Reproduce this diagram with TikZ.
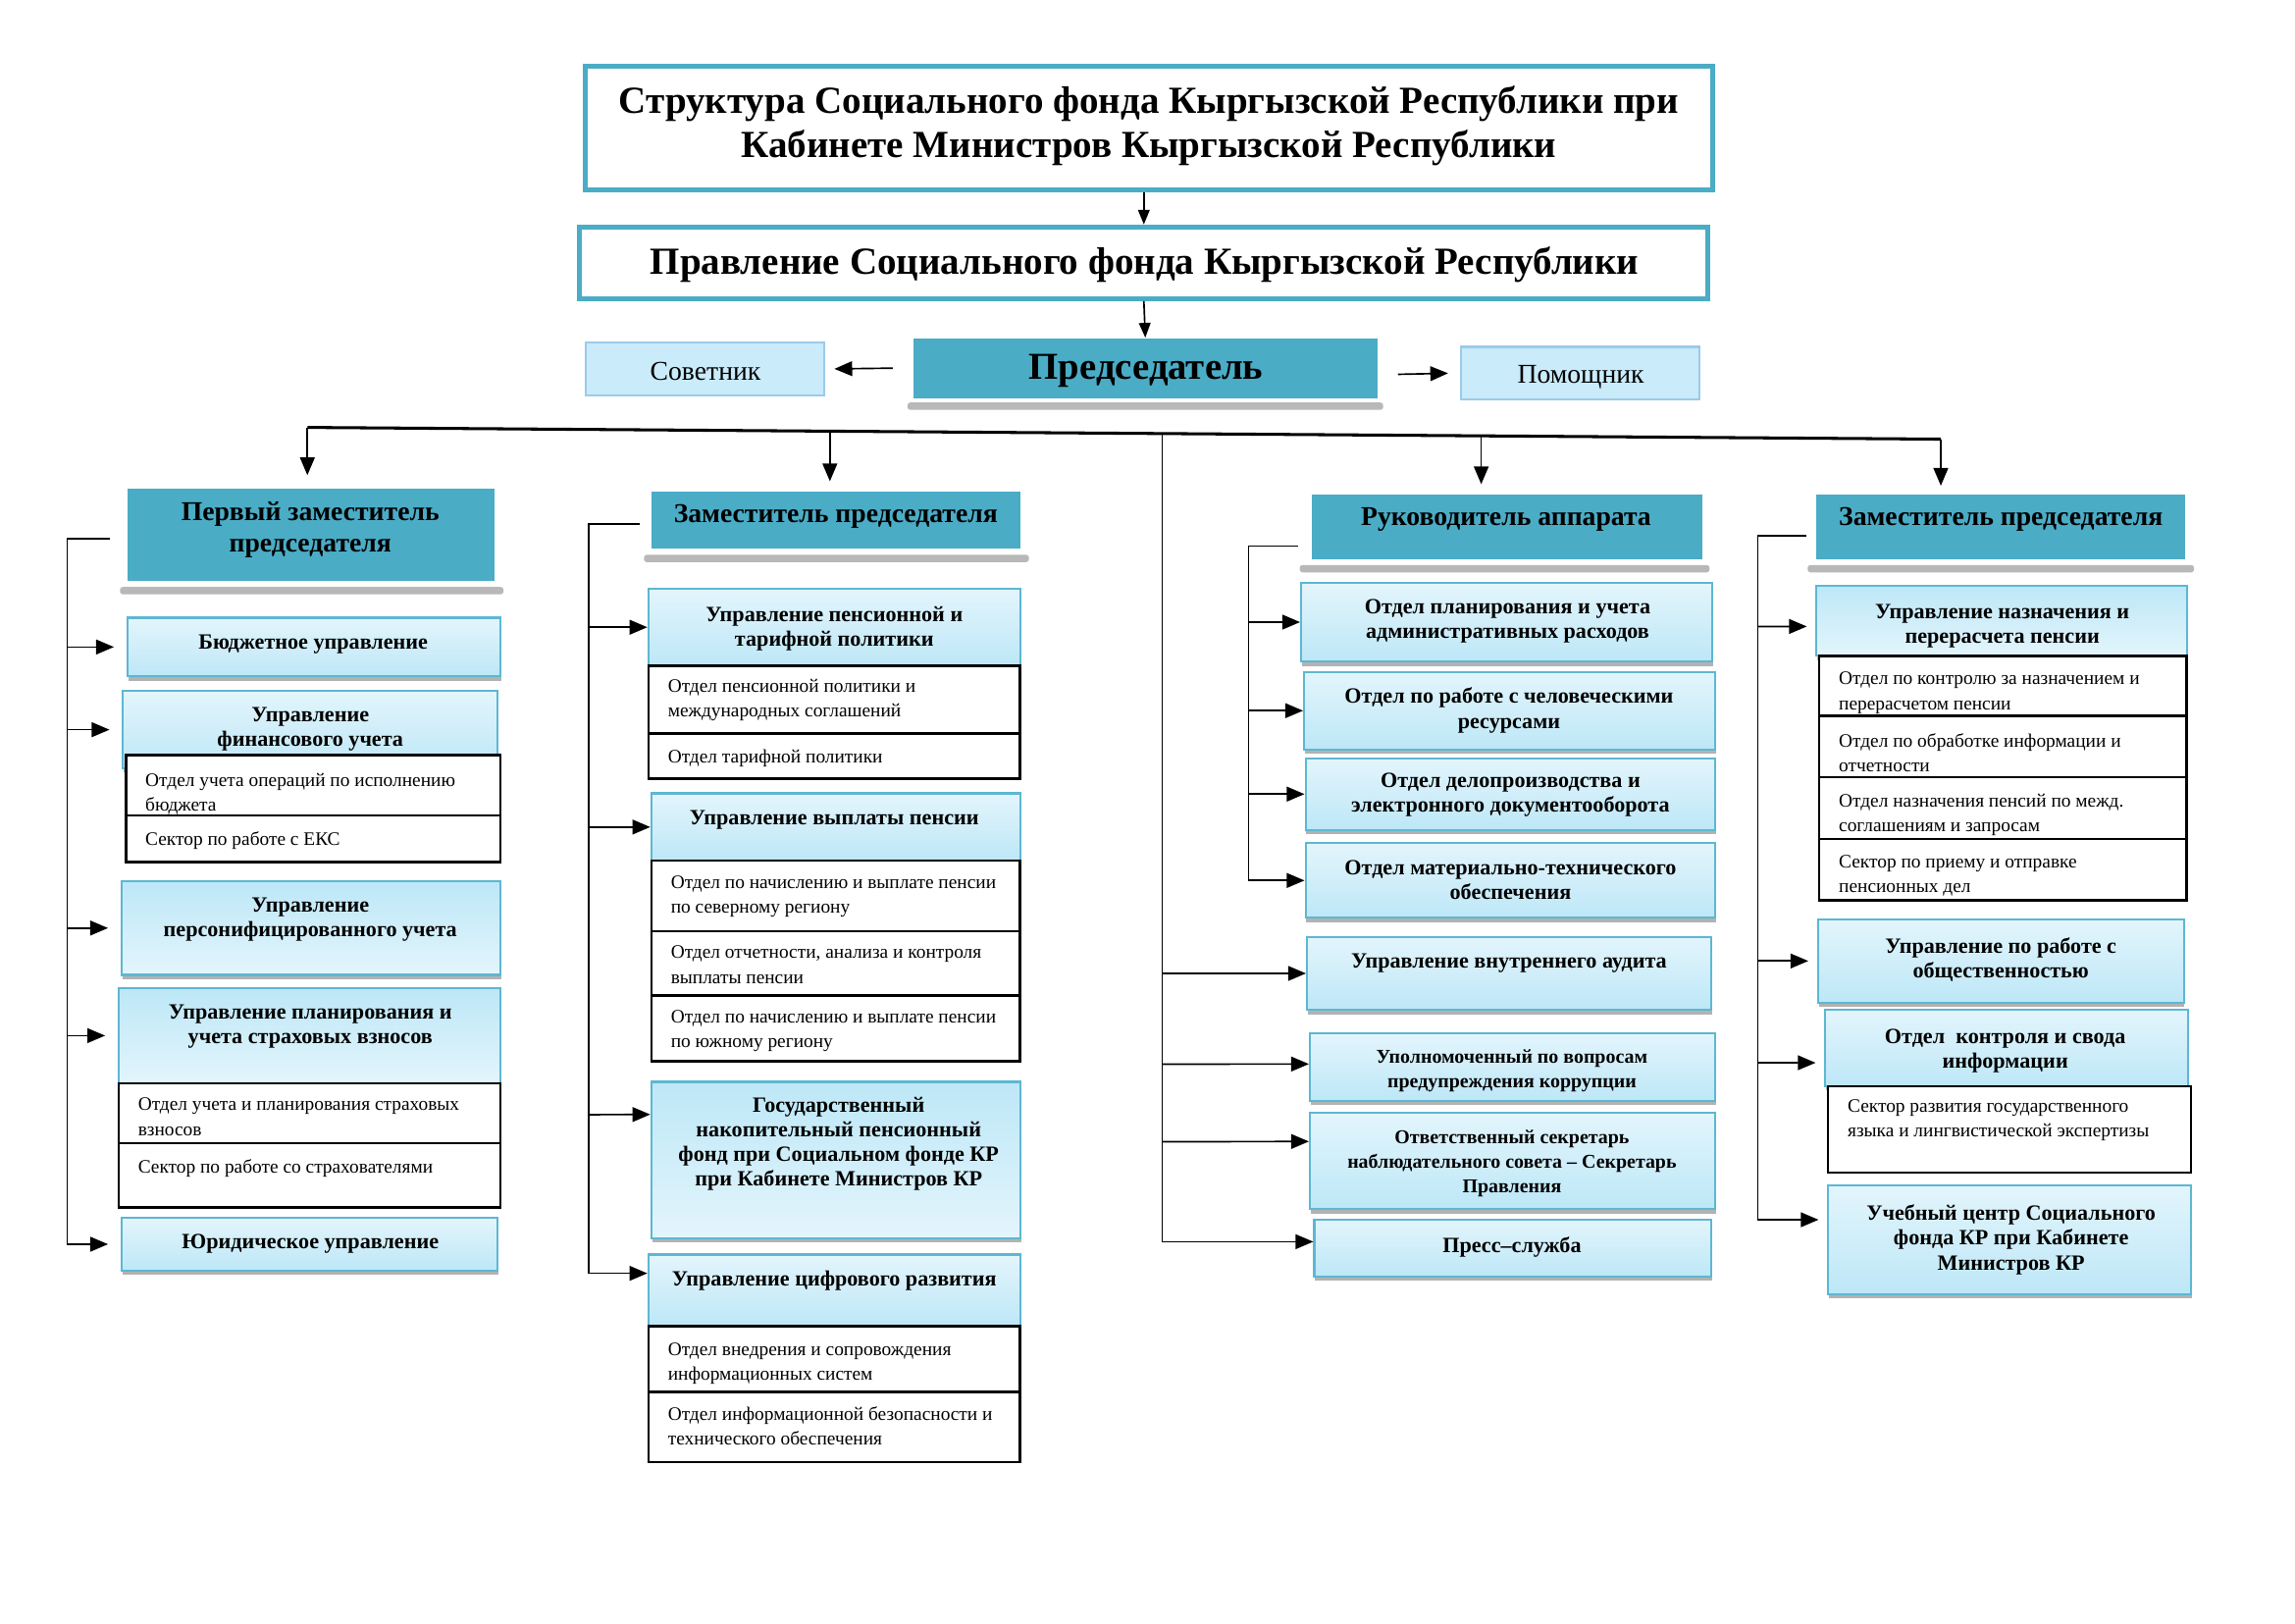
\documentclass[tikz,border=0pt]{standalone}
\usepackage{fontspec}
\setmainfont{Liberation Serif}
\usetikzlibrary{arrows.meta,fit,shadows}
\definecolor{hdrc}{HTML}{4BACC6}
\definecolor{titc}{HTML}{4BACC6}
\definecolor{bordc}{HTML}{5DB7D2}
\definecolor{gtop}{HTML}{E3F5FC}
\definecolor{gbot}{HTML}{BDE7F7}
\definecolor{sidef}{HTML}{C9EBFA}
\definecolor{sided}{HTML}{9BCBE9}
\newcommand\ftl{\fontsize{14.1}{16.2}\selectfont\bfseries}
\newcommand\fpr{\fontsize{14}{17}\selectfont\bfseries}
\newcommand\fhd{\fontsize{10}{11.8}\selectfont\bfseries}
\newcommand\fbx{\fontsize{8}{9.1}\selectfont\bfseries}
\newcommand\fbs{\fontsize{7.2}{9.1}\selectfont\bfseries}
\newcommand\fsb{\fontsize{7}{9.1}\selectfont}
\newcommand\fsd{\fontsize{10}{12}\selectfont}
\tikzset{
  titlebox/.style={draw=titc, line width=1.8pt, fill=white, inner sep=0},
  hdrbox/.style={fill=hdrc, inner sep=0},
  hshadow/.style={fill=black!28, rounded corners=1pt},
  lbox/.style={draw=bordc, line width=0.8pt, top color=gtop, bottom color=gbot, inner sep=0,
    drop shadow={shadow xshift=0.1mm, shadow yshift=-0.55mm, fill=black!30, opacity=1}},
  lboxr/.style={lbox, top color=gbot, bottom color=gtop},
  tbl/.style={draw=black, line width=0.9pt, fill=white, inner sep=0},
  side/.style={draw=sided, line width=0.8pt, fill=sidef, inner sep=0},
  conn/.style={line width=0.6pt},
  arr/.style={conn, -{Triangle[length=2.3mm,width=1.9mm]}},
  arrs/.style={conn, -{Triangle[length=1.9mm,width=1.5mm]}},
  ttxt/.style={font=\ftl, align=center, inner sep=0, yshift=-0.35mm},
  htxt/.style={font=\fhd, align=center, inner sep=0, yshift=-0.35mm},
  btxt/.style={font=\fbx, align=center, inner sep=0, yshift=-0.35mm},
  bstxt/.style={font=\fbs, align=center, inner sep=0, yshift=-0.35mm},
  stxt/.style={font=\fsb, align=left, inner sep=0, anchor=north west, yshift=-0.35mm},
}
\begin{document}
\begin{tikzpicture}[x=0.18941mm, y=-0.18941mm]
\useasboundingbox (0,0) rectangle (1568,1109);
\fill[white] (0,0) rectangle (1568,1109);

% ---------- top ----------
\node[titlebox, fit={(400,45) (1170,130)}] (title) {};
\node[ttxt] (titlet) at (785,84) {Структура Социального фонда Кыргызской Республики при\\Кабинете Министров Кыргызской Республики};
\node[titlebox, fit={(396,155) (1167,204)}] (prav) {};
\node[ttxt] (pravt) at (782,179) {Правление Социального фонда Кыргызской Республики};
\fill[hshadow] (620,275) rectangle (945,280);
\node[hdrbox, fit={(624,231) (941,272)}] (pred) {};
\node[font=\fpr, inner sep=0, yshift=-0.5mm] (predt) at (783,251) {Председатель};
\node[side, fit={(400,234) (563,270)}] (sov) {};
\node[font=\fsd, inner sep=0, yshift=-0.35mm] (sovt) at (482,252) {Советник};
\node[side, fit={(998,237) (1161,273)}] (pom) {};
\node[font=\fsd, inner sep=0, yshift=-0.35mm] (pomt) at (1080,256) {Помощник};

\draw[arrs] (title.south -| prav.north) -- (prav.north);
\draw[arrs] (prav.south) -- (pred.north);
\draw[arr] ([xshift=-2.6mm]pred.west) -- ([xshift=1.2mm]sov.east);
\draw[arr] ([xshift=2.6mm,yshift=-0.8mm]pred.east) -- ([xshift=-1.5mm]pom.west);

% ---------- main line ----------
\coordinate (L1) at (210,292);
\coordinate (L2) at (567,294.6);
\coordinate (LM) at (794,296.2);
\coordinate (L3) at (1012,297.7);
\coordinate (L4) at (1326,300);
\draw[line width=1.1pt] (L1) -- (L4);

% ---------- column 1 ----------
\fill[hshadow] (82,401) rectangle (344,406);
\node[hdrbox, fit={(87,334) (338,397)}] (h1) {};
\node[htxt] (h1t) at (212,360) {Первый заместитель\\председателя};

\node[lbox, fit={(87,422) (342,462)}] (c1a) {};
\node[btxt] (c1at) at (214,438) {Бюджетное управление};

\node[lbox, fit={(84,472) (340,525)}] (c1b) {};
\node[btxt] (c1bt) at (212,496.5) {Управление\\финансового учета};
\node[tbl, fit={(86,516) (342,557)}] (c1b1) {};
\node[tbl, fit={(86,557) (342,589)}] (c1b2) {};
\node[stxt] (c1b1t) at (99,526) {Отдел учета операций по исполнению\\бюджета};
\node[stxt] (c1b2t) at (99,566) {Сектор по работе с ЕКС};

\node[lboxr, fit={(83,602) (342,666)}] (c1c) {};
\node[btxt] (c1ct) at (212,626.5) {Управление\\персонифицированного учета};

\node[lboxr, fit={(81,675) (342,740)}] (c1d) {};
\node[btxt] (c1dt) at (212,699.5) {Управление планирования и\\учета страховых взносов};
\node[tbl, fit={(81,740) (342,781)}] (c1d1) {};
\node[tbl, fit={(81,781) (342,825)}] (c1d2) {};
\node[stxt] (c1d1t) at (94,748) {Отдел учета и планирования страховых\\взносов};
\node[stxt] (c1d2t) at (94,790) {Сектор по работе со страхователями};

\node[lbox, fit={(83,832) (340,868)}] (c1e) {};
\node[btxt] (c1et) at (212,848) {Юридическое управление};

\draw[arr, shorten >=1.7mm] (L1) -- (L1 |- h1.north);
\coordinate (s1) at (75,368);
\coordinate (B1) at (46,368);
\draw[arr, shorten >=1.6mm] (s1) -- (B1) |- (c1e.west);
\foreach \n in {c1a,c1b,c1c,c1d}{
  \draw[arr, shorten >=1.6mm] (B1 |- \n.west) -- (\n.west);
}

% ---------- column 2 ----------
\fill[hshadow] (440,379) rectangle (703,384);
\node[hdrbox, fit={(445,336) (697,375)}] (h2) {};
\node[htxt] (h2t) at (571,351) {Заместитель председателя};

\node[lbox, fit={(443,402) (697,455)}] (c2a) {};
\node[btxt] (c2at) at (570,427.5) {Управление пенсионной и\\тарифной политики};
\node[tbl, fit={(443,455) (697,501)}] (c2a1) {};
\node[tbl, fit={(443,501) (697,532)}] (c2a2) {};
\node[stxt] (c2a1t) at (456,462) {Отдел пенсионной политики и\\международных соглашений};
\node[stxt] (c2a2t) at (456,510) {Отдел тарифной политики};

\node[lbox, fit={(445,542) (697,588)}] (c2b) {};
\node[btxt] (c2bt) at (570,558) {Управление выплаты пенсии};
\node[tbl, fit={(445,588) (697,636)}] (c2b1) {};
\node[tbl, fit={(445,636) (697,680)}] (c2b2) {};
\node[tbl, fit={(445,680) (697,725)}] (c2b3) {};
\node[stxt] (c2b1t) at (458,596) {Отдел по начислению и выплате пенсии\\по северному региону};
\node[stxt] (c2b2t) at (458,644) {Отдел отчетности, анализа и контроля\\выплаты пенсии};
\node[stxt] (c2b3t) at (458,688) {Отдел по начислению и выплате пенсии\\по южному региону};

\node[lboxr, fit={(445,739) (697,846)}] (c2c) {};
\node[btxt] (c2ct) at (573,779.5) {Государственный\\накопительный пенсионный\\фонд при Социальном фонде КР\\при Кабинете Министров КР};

\node[lbox, fit={(443,857) (697,906)}] (c2d) {};
\node[btxt] (c2dt) at (570,873) {Управление цифрового развития};
\node[tbl, fit={(443,906) (697,951)}] (c2d1) {};
\node[tbl, fit={(443,951) (697,999)}] (c2d2) {};
\node[stxt] (c2d1t) at (456,915) {Отдел внедрения и сопровождения\\информационных систем};
\node[stxt] (c2d2t) at (456,959) {Отдел информационной безопасности и\\технического обеспечения};

\draw[arr, shorten >=1.3mm] (L2) -- (L2 |- h2.north);
\coordinate (s2) at (437,358);
\coordinate (B2) at (402,358);
\draw[arr] (s2) -- (B2) |- ([yshift=2.2mm]c2d.west);
\draw[arr] (B2 |- c2a.west) -- (c2a.west);
\draw[arr] (B2 |- c2b.west) -- (c2b.west);
\draw[arr] (B2 |- c2c.west) ++(0,-31) -- ([yshift=5.9mm]c2c.west);

% ---------- column 3 ----------
\fill[hshadow] (888,386) rectangle (1168,391);
\node[hdrbox, fit={(896,338) (1163,382)}] (h3) {};
\node[htxt] (h3t) at (1029,353) {Руководитель аппарата};

\node[lbox, fit={(889,398) (1170,452)}] (c3a) {};
\node[btxt] (c3at) at (1030,422.5) {Отдел планирования и учета\\административных расходов};
\node[lbox, fit={(891,459) (1172,512)}] (c3b) {};
\node[btxt] (c3bt) at (1031,483.5) {Отдел по работе с человеческими\\ресурсами};
\node[lbox, fit={(892,518) (1172,567)}] (c3c) {};
\node[btxt] (c3ct) at (1032,541) {Отдел делопроизводства и\\электронного документооборота};
\node[lbox, fit={(892,576) (1172,627)}] (c3d) {};
\node[btxt] (c3dt) at (1032,599.5) {Отдел материально-технического\\обеспечения};

\node[lbox, fit={(893,640) (1169,690)}] (c3e) {};
\node[btxt] (c3et) at (1031,656) {Управление внутреннего аудита};
\node[lbox, fit={(895,706) (1172,752)}] (c3f) {};
\node[bstxt] (c3ft) at (1033,729.5) {Уполномоченный по вопросам\\предупреждения коррупции};
\node[lbox, fit={(895,760) (1172,826)}] (c3g) {};
\node[bstxt] (c3gt) at (1033,793) {Ответственный секретарь\\наблюдательного совета – Секретарь\\Правления};
\node[lbox, fit={(898,833) (1169,872)}] (c3h) {};
\node[btxt] (c3ht) at (1033,850) {Пресс–служба};

\draw[arr, shorten >=1.3mm] (L3) -- (L3 |- h3.north);
\coordinate (s3) at (887,373);
\coordinate (B3) at (853,373);
\draw[arr] (s3) -- (B3) |- (c3d.west);
\foreach \n in {c3a,c3b,c3c}{
  \draw[arr] (B3 |- \n.west) -- (\n.west);
}
\draw[arr] (LM) |- ([yshift=0.8mm]c3h.west);
\draw[arr] (LM |- c3e.west) -- (c3e.west);
\draw[arr] (LM |- c3f.west) ++(0,-2) -- ([yshift=0.4mm]c3f.west);
\draw[arr] (LM |- c3g.west) ++(0,-13) -- ([yshift=2.5mm]c3g.west);

% ---------- column 4 ----------
\fill[hshadow] (1235,386) rectangle (1499,391);
\node[hdrbox, fit={(1241,338) (1493,382)}] (h4) {};
\node[htxt] (h4t) at (1367,353) {Заместитель председателя};

\node[lboxr, fit={(1241,400) (1494,448)}] (c4a) {};
\node[btxt] (c4at) at (1368,426) {Управление назначения и\\перерасчета пенсии};
\node[tbl, fit={(1243,448) (1494,489)}] (c4a1) {};
\node[tbl, fit={(1243,489) (1494,531)}] (c4a2) {};
\node[tbl, fit={(1243,531) (1494,573)}] (c4a3) {};
\node[tbl, fit={(1243,573) (1494,615)}] (c4a4) {};
\node[stxt] (c4a1t) at (1256,457) {Отдел по контролю за назначением и\\перерасчетом пенсии};
\node[stxt] (c4a2t) at (1256,499) {Отдел по обработке информации и\\отчетности};
\node[stxt] (c4a3t) at (1256,540) {Отдел назначения пенсий по межд.\\соглашениям и запросам};
\node[stxt] (c4a4t) at (1256,582) {Сектор по приему и отправке\\пенсионных дел};

\node[lbox, fit={(1242,628) (1492,685)}] (c4b) {};
\node[btxt] (c4bt) at (1367,653.5) {Управление по работе с\\общественностью};
\node[lbox, fit={(1247,690) (1495,742)}] (c4c) {};
\node[btxt] (c4ct) at (1370,716) {Отдел\ \ контроля и свода\\информации};
\node[tbl, fit={(1249,742) (1497,801)}] (c4c1) {};
\node[stxt] (c4c1t) at (1262,749) {Сектор развития государственного\\языка и лингвистической экспертизы};
\node[lbox, fit={(1249,810) (1497,884)}] (c4d) {};
\node[btxt] (c4dt) at (1374,845) {Учебный центр Социального\\фонда КР при Кабинете\\Министров КР};

\draw[arr, shorten >=1.1mm] (L4) -- (L4 |- h4.north);
\coordinate (s4) at (1234,366);
\coordinate (B4) at (1201,366);
\draw[arr, shorten >=1.1mm] (s4) -- (B4) |- ([yshift=2.6mm]c4d.west);
\draw[arr, shorten >=1.1mm] (B4 |- c4a.west) ++(0,4) -- ([yshift=-0.75mm]c4a.west);
\draw[arr, shorten >=1.1mm] (B4 |- c4b.west) -- (c4b.west);
\draw[arr, shorten >=1.1mm] (B4 |- c4c.west) ++(0,10) -- ([yshift=-1.9mm]c4c.west);
\end{tikzpicture}
\end{document}
